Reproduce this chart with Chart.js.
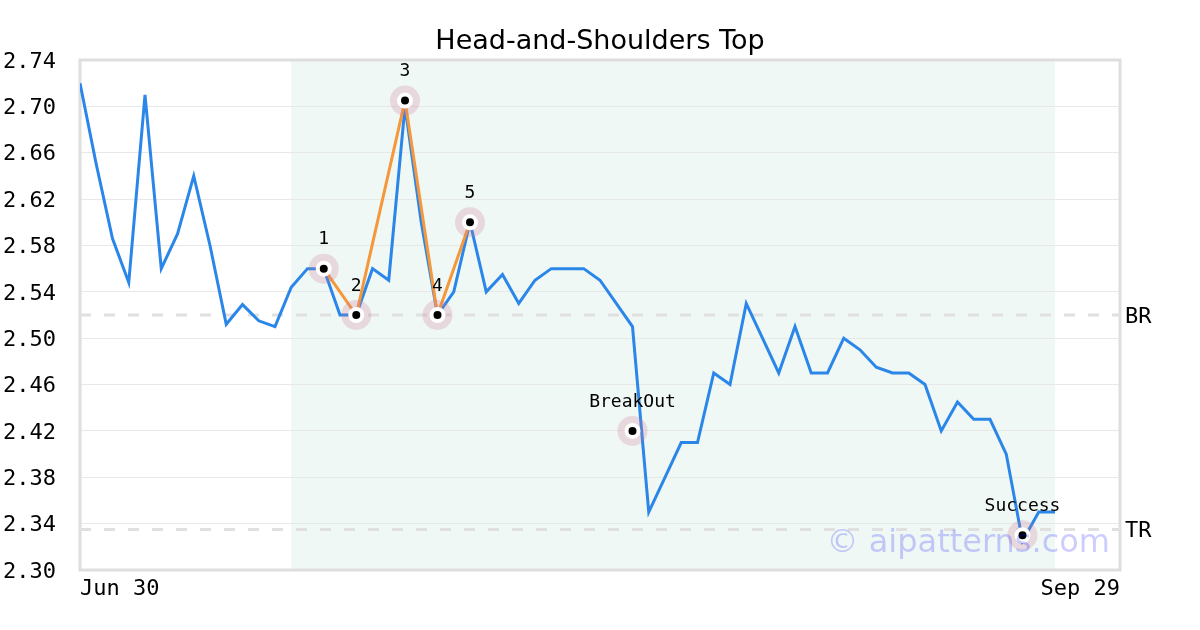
<!DOCTYPE html>
<html>
<head>
<meta charset="utf-8">
<script src="https://cdn.jsdelivr.net/npm/chart.js@4/dist/chart.umd.min.js"></script>
<style>
  body { margin: 0; background: #fff; }
</style>
</head>
<body>
<canvas id="chart" width="1200" height="630"></canvas>
<script>
const prices = [
  2.72, 2.65, 2.586, 2.548, 2.71, 2.56, 2.59, 2.64, 2.58, 2.512,
  2.529, 2.515, 2.51, 2.544, 2.56, 2.56, 2.52, 2.52, 2.56, 2.55,
  2.70, 2.60, 2.52, 2.54, 2.60, 2.54, 2.555, 2.53, 2.55, 2.56,
  2.56, 2.56, 2.55, 2.53, 2.51, 2.35, 2.38, 2.41, 2.41, 2.47,
  2.46, 2.53, 2.50, 2.47, 2.51, 2.47, 2.47, 2.50, 2.49, 2.475,
  2.47, 2.47, 2.46, 2.42, 2.445, 2.43, 2.43, 2.40, 2.325, 2.35,
  2.35
];
const xTickLabels = ['Jun 30', 'Sep 29'];
const xRange = [0, 64];
const yTicks = [2.30, 2.34, 2.38, 2.42, 2.46, 2.50, 2.54, 2.58, 2.62, 2.66, 2.70, 2.74];

// head & shoulders points (1..5)
const patternX = [15, 17, 20, 22, 24];
const patternY = [2.56, 2.52, 2.705, 2.52, 2.60];
const patternLabels = ['1', '2', '3', '4', '5'];

// breakout / target points
const signalX = [34, 58];
const signalY = [2.42, 2.33];
const signalLabels = ['BreakOut', 'Success'];

const levelValues = [2.52, 2.335];
const levelLabels = ['BR', 'TR'];

const shadeRange = [13, 60];

const markers = patternX.map((x, i) => ({x, y: patternY[i], label: patternLabels[i]}))
  .concat(signalX.map((x, i) => ({x, y: signalY[i], label: signalLabels[i]})));

const mono = 'DejaVu Sans Mono';

const decor = {
  id: 'decor',
  beforeDraw(chart) {
    const {ctx, chartArea: a, scales: {x}} = chart;
    ctx.save();
    ctx.fillStyle = '#f0f8f5';
    const x0 = x.getPixelForValue(shadeRange[0]);
    const x1 = x.getPixelForValue(shadeRange[1]);
    ctx.fillRect(x0, a.top, x1 - x0, a.bottom - a.top);
    ctx.restore();
  },
  beforeDatasetsDraw(chart) {
    const {ctx, chartArea: a, scales: {y}} = chart;
    ctx.save();
    ctx.strokeStyle = '#dedede';
    ctx.lineWidth = 3;
    ctx.strokeRect(a.left, a.top, a.right - a.left, a.bottom - a.top);
    ctx.setLineDash([11, 13]);
    ctx.strokeStyle = '#e0e0e0';
    ctx.font = '22px ' + mono;
    ctx.fillStyle = '#000';
    ctx.textBaseline = 'middle';
    levelValues.forEach((v, i) => {
      const py = y.getPixelForValue(v);
      ctx.beginPath();
      ctx.moveTo(a.left, py);
      ctx.lineTo(a.right, py);
      ctx.stroke();
      ctx.fillText(levelLabels[i], a.right + 5, py + 2);
    });
    ctx.restore();
  },
  afterDraw(chart) {
    const {ctx, chartArea: a, scales: {x, y}} = chart;
    ctx.save();
    ctx.font = '18px ' + mono;
    ctx.fillStyle = '#000';
    ctx.textAlign = 'center';
    ctx.textBaseline = 'middle';
    markers.forEach(m => {
      ctx.fillText(m.label, x.getPixelForValue(m.x), y.getPixelForValue(m.y) - 29);
    });
    ctx.font = '32px "DejaVu Sans"';
    ctx.fillStyle = 'rgba(0, 0, 255, 0.2)';
    ctx.textAlign = 'right';
    ctx.textBaseline = 'alphabetic';
    ctx.fillText('© aipatterns.com', a.right - 10, a.bottom - 18);
    ctx.restore();
  }
};

new Chart(document.getElementById('chart'), {
  type: 'line',
  data: {
    datasets: [
      {
        data: prices.map((y, i) => ({x: i, y})),
        borderColor: '#2a86e8',
        borderWidth: 3,
        pointRadius: 0,
        tension: 0,
        order: 4
      },
      {
        data: patternX.map((x, i) => ({x, y: patternY[i]})),
        borderColor: '#f5983c',
        borderWidth: 3,
        pointRadius: 0,
        tension: 0,
        order: 3
      },
      {
        data: markers.map(m => ({x: m.x, y: m.y})),
        showLine: false,
        pointRadius: 15,
        pointBackgroundColor: 'rgba(200, 120, 150, 0.25)',
        pointBorderWidth: 0,
        order: 2
      },
      {
        data: markers.map(m => ({x: m.x, y: m.y})),
        showLine: false,
        pointRadius: 6,
        pointBackgroundColor: '#000',
        pointBorderColor: '#fff',
        pointBorderWidth: 4,
        order: 1
      }
    ]
  },
  options: {
    responsive: false,
    animation: false,
    plugins: {
      legend: {display: false},
      tooltip: {enabled: false},
      title: {
        display: true,
        text: 'Head-and-Shoulders Top',
        color: '#000',
        font: {family: 'DejaVu Sans', size: 27, weight: 'normal', lineHeight: 1.2},
        padding: {top: 26, bottom: 1.6}
      }
    },
    scales: {
      x: {
        type: 'linear',
        min: xRange[0],
        max: xRange[1],
        afterBuildTicks: s => { s.ticks = xRange.map(v => ({value: v})); },
        afterFit: s => { s.height = 60; },
        grid: {display: false},
        border: {display: false},
        ticks: {
          align: 'inner',
          maxRotation: 0,
          padding: -2,
          color: '#000',
          font: {family: mono, size: 22},
          callback: v => v === xRange[0] ? xTickLabels[0] : xTickLabels[1]
        }
      },
      y: {
        min: yTicks[0],
        max: yTicks[yTicks.length - 1],
        afterBuildTicks: s => { s.ticks = yTicks.map(v => ({value: v})); },
        afterFit: s => { s.width = 80; },
        grid: {color: '#e8e8e8', lineWidth: 1, drawTicks: false},
        border: {display: false},
        ticks: {
          padding: 24,
          labelOffset: 2,
          color: '#000',
          font: {family: mono, size: 22},
          callback: v => v.toFixed(2)
        }
      },
      yRight: {
        position: 'right',
        min: yTicks[0],
        max: yTicks[yTicks.length - 1],
        afterFit: s => { s.width = 80; },
        grid: {display: false},
        border: {display: false},
        ticks: {display: false}
      }
    }
  },
  plugins: [decor]
});
</script>
</body>
</html>
